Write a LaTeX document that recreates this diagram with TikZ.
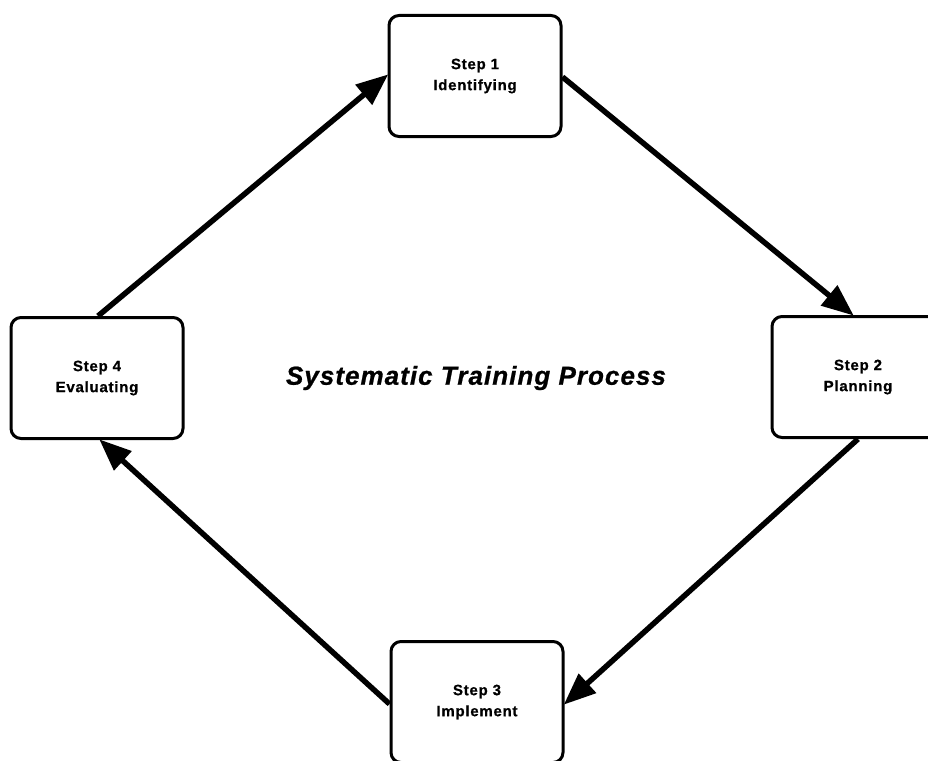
\documentclass[tikz,border=0pt]{standalone}
\usepackage{fontspec}
\setmainfont{Liberation Sans}
\newfontfamily\stepfont[LetterSpace=5,FakeBold=0.8]{Liberation Sans}
\newfontfamily\titlefont[LetterSpace=4,FakeBold=0.8]{Liberation Sans}
\usetikzlibrary{arrows.meta}
\begin{document}
\begin{tikzpicture}[x=1pt,y=-1pt,
  stepbox/.style={draw, line width=3pt, rounded corners=10pt, fill=white,
    minimum width=172pt, minimum height=121pt, inner sep=0pt,
    align=center, font=\stepfont\bfseries\fontsize{15}{21}\selectfont},
  flow/.style={line width=5.5pt, -{Triangle[length=32pt,width=25pt]}, shorten >=-1pt}]
\useasboundingbox (0,0) rectangle (928,760);
\begin{scope}
\clip (0,0) rectangle (928,760);
\node[stepbox] (s1) at (475,76) {Step 1\\Identifying};
\node[stepbox] (s2) at (858,377) {Step 2\\Planning};
\node[stepbox] (s3) at (477,702) {Step 3\\Implement};
\node[stepbox] (s4) at (97,378) {Step 4\\Evaluating};
\node[font=\titlefont\bfseries\itshape\fontsize{26}{30}\selectfont] (title) at (476,378) {Systematic Training Process};
\draw[flow] ([xshift=1pt]s4.north) -- ([yshift=1pt]s1.west);
\draw[flow] ([yshift=-1pt]s1.east) -- ([xshift=-5pt]s2.north);
\draw[flow] (s2.south) -- ([yshift=-2pt]s3.east);
\draw[flow] ([yshift=-2pt]s3.west) -- ([xshift=3pt]s4.south);
\end{scope}
\end{tikzpicture}
\end{document}
